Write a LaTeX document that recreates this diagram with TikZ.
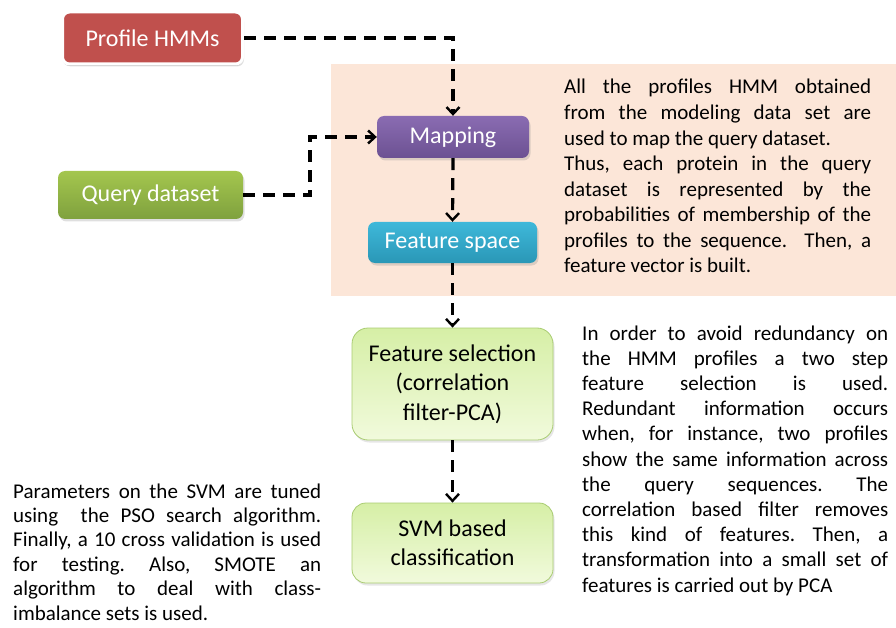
\documentclass[tikz,border=0pt]{standalone}
\usepackage{fontspec}
\setmainfont{Carlito}
\frenchspacing
\usetikzlibrary{arrows.meta,shadows}
\definecolor{peach}{HTML}{FCE6D8}
\definecolor{hred}{HTML}{C0504D}
\definecolor{purpT}{HTML}{8A6CB2}
\definecolor{purpB}{HTML}{6C5192}
\definecolor{grnT}{HTML}{A4C64E}
\definecolor{grnB}{HTML}{7FA13E}
\definecolor{cyanT}{HTML}{3EB8DA}
\definecolor{cyanB}{HTML}{2A97B6}
\definecolor{lgT}{HTML}{D6EFA6}
\definecolor{lgB}{HTML}{F1FADC}
\definecolor{lgD}{HTML}{A9CC72}
\tikzset{
  box/.style={rounded corners=7pt, align=center, inner sep=0pt,
    font=\fontsize{24}{29}\selectfont, text=white,
    drop shadow={shadow xshift=1.5pt, shadow yshift=-2.5pt, opacity=0.25}},
  lbox/.style={rounded corners=16pt, align=center, inner sep=0pt,
    font=\fontsize{24}{29.5}\selectfont, text=black,
    top color=lgT, bottom color=lgB, draw=lgD, line width=0.8pt,
    minimum width=201pt,
    drop shadow={shadow xshift=1.5pt, shadow yshift=-2.5pt, opacity=0.2}},
  flow/.style={line width=3.2pt, dash pattern=on 12pt off 8pt,
    -{Straight Barb[length=7pt,width=13pt,line width=2.4pt]}},
  para/.style={anchor=base west, inner sep=0pt}
}
\begin{document}
\begin{tikzpicture}[x=1pt,y=-1pt]
\useasboundingbox (0,0) rectangle (896,628);
\fill[peach] (331,64) rectangle (896,296);

\node[box, fill=hred, draw=white, line width=3pt, minimum width=180pt, minimum height=52pt,
  drop shadow={shadow xshift=0pt, shadow yshift=-2pt, opacity=0.3}] (phmm) at (152.5,38) {Profile HMMs};
\node[box, top color=purpT, bottom color=purpB, minimum width=152pt, minimum height=42pt] (map) at (453,137) {Mapping};
\node[box, top color=grnT, bottom color=grnB, minimum width=185pt, minimum height=48pt] (query) at (150.5,195) {Query dataset};
\node[box, top color=cyanT, bottom color=cyanB, minimum width=169pt, minimum height=41pt] (fspace) at (452.5,242.5) {Feature space};
\node[lbox, minimum height=112pt] (fsel) at (452.5,384) {Feature selection\\(correlation\\filter-PCA)};
\node[lbox, minimum height=80pt, rounded corners=14pt] (svm) at (452.5,543) {SVM based\\classification};

\coordinate (c1) at (453,38);
\coordinate (c2) at (310,195);
\coordinate (c3) at (310,137);
\draw[flow] (phmm.east) -- (c1) -- (map.north);
\draw[flow] (query.east) -- (c2) -- (c3) -- (map.west);
\draw[flow] (map.south) -- (fspace.north);
\draw[flow] (fspace.south) -- (fsel.north);
\draw[flow] (fsel.south) -- (svm.north);

\node[para] (t1) at (564,94) {\parbox[t]{307pt}{\fontsize{21}{25.57}\selectfont\frenchspacing
\makebox[\linewidth][s]{All the profiles HMM obtained}\\
\makebox[\linewidth][s]{from the modeling data set are}\\
used to map the query dataset.\\
\makebox[\linewidth][s]{Thus, each protein in the query}\\
\makebox[\linewidth][s]{dataset is represented by the}\\
\makebox[\linewidth][s]{probabilities of membership of the}\\
\makebox[\linewidth][s]{profiles to the sequence.\ \ Then, a}\\
feature vector is built.}};

\node[para] (t2) at (582,340) {\parbox[t]{306pt}{\fontsize{21}{25.2}\selectfont\frenchspacing
\makebox[\linewidth][s]{In order to avoid redundancy on}\\
\makebox[\linewidth][s]{the HMM profiles a two step}\\
\makebox[\linewidth][s]{feature selection is used.}\\
\makebox[\linewidth][s]{Redundant information occurs}\\
\makebox[\linewidth][s]{when, for instance, two profiles}\\
\makebox[\linewidth][s]{show the same information across}\\
\makebox[\linewidth][s]{the query sequences. The}\\
\makebox[\linewidth][s]{correlation based filter removes}\\
\makebox[\linewidth][s]{this kind of features. Then, a}\\
\makebox[\linewidth][s]{transformation into a small set of}\\
features is carried out by PCA}};

\node[para] (t3) at (13,498) {\parbox[t]{308pt}{\fontsize{21}{24.4}\selectfont\frenchspacing
\makebox[\linewidth][s]{Parameters on the SVM are tuned}\\
\makebox[\linewidth][s]{using\ \ the PSO search algorithm.}\\
\makebox[\linewidth][s]{Finally, a 10 cross validation is used}\\
\makebox[\linewidth][s]{for testing. Also, SMOTE an}\\
\makebox[\linewidth][s]{algorithm to deal with class-}\\
imbalance sets is used.}};
\end{tikzpicture}
\end{document}
